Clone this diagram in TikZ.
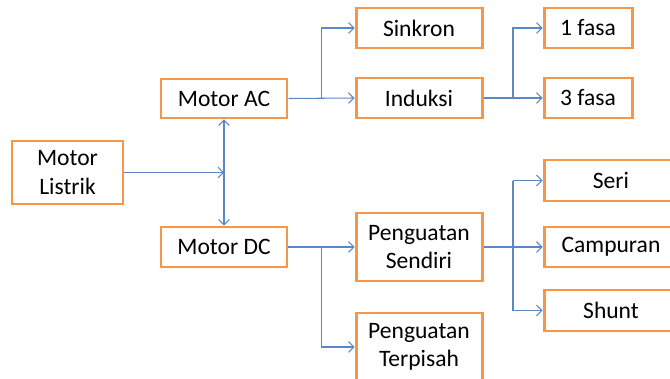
\documentclass[tikz,border=0pt]{standalone}
\usepackage{fontspec}
\setmainfont{Carlito}
\usepackage{tikz}
\usetikzlibrary{arrows.meta, positioning, calc}
\definecolor{boxorange}{HTML}{F79646}
\definecolor{linkblue}{HTML}{5B87C5}

\begin{document}
\begin{tikzpicture}[
  box/.style={
    rectangle, minimum width=2.52cm, minimum height=0.8cm,
    draw=boxorange, line width=1.7pt, fill=white,
    font=\fontsize{13.4}{16}\selectfont, align=center, inner sep=1pt,
  },
  link/.style={draw=linkblue, line width=0.6pt},
  arr/.style={link, -{Straight Barb[length=3pt, width=6pt]}},
]
  \useasboundingbox (0,0) rectangle (13.4,7.56);
  \clip (0,0) rectangle (13.4,7.56);

  % Motor
  \node[box, minimum width=2.22cm, minimum height=1.26cm] (listrik) at (1.35, 4.11) {Motor\\Listrik};
  \node[box, minimum height=0.78cm] (ac) at (4.48, 5.59) {Motor AC};
  \node[box] (dc) at (4.48, 2.62) {Motor DC};

  % AC side
  \node[box] (sinkron) at (8.38, 7.0) {Sinkron};
  \node[box] (induksi) at (8.38, 5.6) {Induksi};
  \node[box, minimum width=1.76cm] (fasa1) at (11.76, 7.0) {1 fasa};
  \node[box, minimum width=1.76cm] (fasa3) at (11.76, 5.6) {3 fasa};

  % DC side
  \node[box, minimum height=1.36cm] (sendiri) at (8.38, 2.62) {Penguatan\\Sendiri};
  \node[box, minimum height=1.36cm] (terpisah) at (8.38, 0.62) {Penguatan\\Terpisah};
  \node[box, minimum width=2.68cm, minimum height=0.82cm] (seri) at (12.22, 3.95) {Seri};
  \node[box, minimum width=2.68cm] (campuran) at (12.22, 2.62) {Campuran};
  \node[box, minimum width=2.68cm, minimum height=0.82cm] (shunt) at (12.22, 1.35) {Shunt};

  % Junctions
  \coordinate (jac) at ($(ac.east)!0.5!(induksi.west)$);
  \coordinate (jind) at ($(induksi.east)!0.5!(fasa3.west)$);
  \coordinate (jdc) at ($(dc.east)!0.5!(sendiri.west)$);
  \coordinate (jsen) at ($(sendiri.east)!0.5!(campuran.west)$);

  % Links
  \draw[link, {Straight Barb[length=3pt, width=6pt]}-{Straight Barb[length=3pt, width=6pt]}] (ac.south) -- (dc.north);
  \draw[arr] (listrik.east) -- (listrik.east -| ac.south);

  \draw[arr] (ac.east) -- (induksi.west);
  \draw[arr] (jac) |- (sinkron.west);
  \draw[arr] (induksi.east) -- (fasa3.west);
  \draw[arr] (jind) |- (fasa1.west);

  \draw[arr] (dc.east) -- (sendiri.west);
  \draw[arr] (jdc) |- (terpisah.west);
  \draw[arr] (sendiri.east) -- (campuran.west);
  \draw[arr] (jsen |- seri.west) -- (seri.west);
  \draw[arr] (jsen |- seri.west) |- (shunt.west);
\end{tikzpicture}
\end{document}
